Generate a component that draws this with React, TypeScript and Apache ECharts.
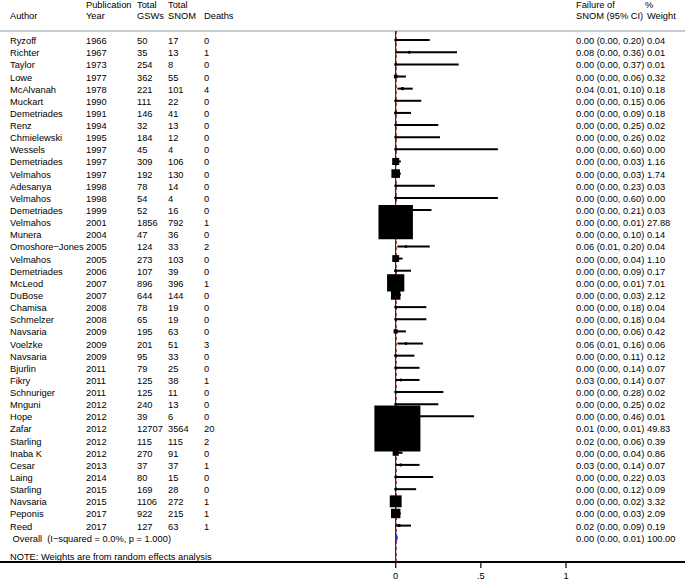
import React, { useEffect, useRef } from "react";
import * as echarts from "echarts";

const authors = ["Ryzoff","Richter","Taylor","Lowe","McAlvanah","Muckart","Demetriades","Renz","Chmielewski","Wessels","Demetriades","Velmahos","Adesanya","Velmahos","Demetriades","Velmahos","Munera","Omoshore\u2212Jones","Velmahos","Demetriades","McLeod","DuBose","Chamisa","Schmelzer","Navsaria","Voelzke","Navsaria","Bjurlin","Fikry","Schnuriger","Mnguni","Hope","Zafar","Starling","Inaba K","Cesar","Laing","Starling","Navsaria","Peponis","Reed"];
const years = [1966,1967,1973,1977,1978,1990,1991,1994,1995,1997,1997,1997,1998,1998,1999,2001,2004,2005,2005,2006,2007,2007,2008,2008,2009,2009,2009,2011,2011,2011,2012,2012,2012,2012,2012,2013,2014,2015,2015,2017,2017];
const gsws = [50,35,254,362,221,111,146,32,184,45,309,192,78,54,52,1856,47,124,273,107,896,644,78,65,195,201,95,79,125,125,240,39,12707,115,270,37,80,169,1106,922,127];
const snom = [17,13,8,55,101,22,41,13,12,4,106,130,14,4,16,792,36,33,103,39,396,144,19,19,63,51,33,25,38,11,13,6,3564,115,91,37,15,28,272,215,63];
const deaths = [0,1,0,0,4,0,0,0,0,0,0,0,0,0,0,1,0,2,0,0,1,0,0,0,0,3,0,0,1,0,0,0,20,2,0,1,0,0,1,1,1];
const es = [0.00,0.08,0.00,0.00,0.04,0.00,0.00,0.00,0.00,0.00,0.00,0.00,0.00,0.00,0.00,0.00,0.00,0.06,0.00,0.00,0.00,0.00,0.00,0.00,0.00,0.06,0.00,0.00,0.03,0.00,0.00,0.00,0.01,0.02,0.00,0.03,0.00,0.00,0.00,0.00,0.02];
const lo = [0.00,0.00,0.00,0.00,0.01,0.00,0.00,0.00,0.00,0.00,0.00,0.00,0.00,0.00,0.00,0.00,0.00,0.01,0.00,0.00,0.00,0.00,0.00,0.00,0.00,0.01,0.00,0.00,0.00,0.00,0.00,0.00,0.00,0.00,0.00,0.00,0.00,0.00,0.00,0.00,0.00];
const hi = [0.20,0.36,0.37,0.06,0.10,0.15,0.09,0.25,0.26,0.60,0.03,0.03,0.23,0.60,0.21,0.01,0.10,0.20,0.04,0.09,0.01,0.03,0.18,0.18,0.06,0.16,0.11,0.14,0.14,0.28,0.25,0.46,0.01,0.06,0.04,0.14,0.22,0.12,0.02,0.03,0.09];
const weights = [0.04,0.01,0.01,0.32,0.18,0.06,0.18,0.02,0.02,0.00,1.16,1.74,0.03,0.00,0.03,27.88,0.14,0.04,1.10,0.17,7.01,2.12,0.04,0.04,0.42,0.06,0.12,0.07,0.07,0.02,0.02,0.01,49.83,0.39,0.86,0.07,0.03,0.09,3.32,2.09,0.19];

const overallES = 0.003;
const overallLo = 0.0;
const overallHi = 0.01;
const overallWeight = 100.0;
const overallLabel = " Overall  (I\u2212squared = 0.0%, p = 1.000)";
const noteLabel = "NOTE: Weights are from random effects analysis";
const tickValues = [0, 0.5, 1];
const tickLabels = ["0", ".5", "1"];

const FONT = "Liberation Sans, Arial, Helvetica, sans-serif";
const FS = 9.3;
const COLS = { author: 10, year: 86, gsw: 137, snom: 168, deaths: 204, effect: 576, weight: 647 };
const TEXT_DY = 1;
const BOX = 6.52;
const X_MIN = -2.3235;
const X_MAX = 1.6988;
const Y_MIN = 0.25;
const Y_MAX = 44;

export default function App() {
  const ref = useRef<HTMLDivElement>(null);
  useEffect(() => {
    if (!ref.current) return;
    const chart = echarts.init(ref.current, null, { renderer: "svg" });
    const n = authors.length;
    const studyData = authors.map((_, i) => [lo[i], i + 1, hi[i], es[i], weights[i]]);
    const textData = authors.map((_, i) => [0, i + 1, i]);
    const overallRow = n + 1;
    const noteRow = n + 2.5;

    const txt = (x: number, y: number, s: string) => ({
      type: "text",
      style: { text: s, x, y: y + TEXT_DY, fill: "#000", font: `${FS}px ${FONT}`, textAlign: "left", textVerticalAlign: "middle" },
    });

    const header = [
      [COLS.author, 11, "Author"],
      [COLS.year, 0, "Publication"],
      [COLS.year, 11, "Year"],
      [COLS.gsw, 0, "Total"],
      [COLS.gsw, 11, "GSWs"],
      [COLS.snom, 0, "Total"],
      [COLS.snom, 11, "SNOM"],
      [COLS.deaths, 11, "Deaths"],
      [COLS.effect, 0, "Failure of"],
      [COLS.effect, 11, "SNOM (95% CI)"],
      [COLS.weight - 2, 0, "%"],
      [COLS.weight, 11, "Weight"],
    ].map(([x, y, s]) => ({
      type: "text",
      left: x as number,
      top: y as number,
      style: { text: s as string, fill: "#000", font: `${FS}px ${FONT}` },
    }));

    const option: any = {
      animation: false,
      grid: { left: 0, right: 0, top: 31, bottom: 21, containLabel: false },
      xAxis: {
        type: "value",
        min: X_MIN,
        max: X_MAX,
        axisLine: { show: false },
        axisTick: { show: false },
        axisLabel: {
          show: true,
          customValues: tickValues,
          margin: 9,
          color: "#000",
          fontSize: FS,
          fontFamily: FONT,
          formatter: (v: number) => tickLabels[tickValues.indexOf(v)] ?? "",
        },
        splitLine: { show: false },
      },
      yAxis: {
        type: "value",
        min: Y_MIN,
        max: Y_MAX,
        inverse: true,
        show: false,
        splitLine: { show: false },
      },
      graphic: header,
      series: [
        {
          type: "custom",
          z: 1,
          clip: false,
          silent: true,
          data: [[X_MIN, Y_MIN, X_MAX, Y_MAX]],
          encode: { x: [0, 2], y: [1, 3] },
          renderItem: (_p: any, api: any) => {
            const tl = api.coord([api.value(0), api.value(1)]);
            const br = api.coord([api.value(2), api.value(3)]);
            const topY = Math.round(tl[1]);
            const axisY = Math.round(br[1]);
            const children: any[] = [
              { type: "rect", shape: { x: tl[0], y: topY - 1, width: br[0] - tl[0], height: 2 }, style: { fill: "#c4cccc" } },
              { type: "rect", shape: { x: tl[0], y: axisY - 1, width: br[0] - tl[0], height: 2 }, style: { fill: "#000" } },
            ];
            tickValues.forEach((t) => {
              const p = api.coord([t, api.value(3)]);
              children.push({ type: "rect", shape: { x: p[0] - 0.6, y: axisY, width: 1.2, height: 6 }, style: { fill: "#000" } });
            });
            return { type: "group", children };
          },
        },
        {
          type: "line",
          data: [[0, Y_MIN], [0, Y_MAX]],
          symbol: "none",
          clip: false,
          lineStyle: { color: "#000", width: 1 },
          z: 1,
        },
        {
          type: "line",
          data: [[overallES, Y_MIN], [overallES, Y_MAX]],
          symbol: "none",
          clip: false,
          lineStyle: { color: "#c00000", width: 1, type: [3, 3] },
          z: 2,
        },
        {
          type: "custom",
          z: 3,
          clip: false,
          data: studyData,
          encode: { x: [0, 2, 3], y: 1 },
          renderItem: (_p: any, api: any) => {
            const row = api.value(1);
            const a = api.coord([api.value(0), row]);
            const b = api.coord([api.value(2), row]);
            const e = api.coord([api.value(3), row]);
            const side = BOX * Math.sqrt(api.value(4));
            return {
              type: "group",
              children: [
                { type: "line", shape: { x1: a[0], y1: a[1], x2: b[0], y2: b[1] }, style: { stroke: "#000", lineWidth: 2 } },
                { type: "rect", shape: { x: e[0] - side / 2, y: e[1] - side / 2, width: side, height: side }, style: { fill: "#000" } },
                { type: "circle", shape: { cx: e[0], cy: e[1], r: 1.5 }, style: { fill: "#000" } },
              ],
            };
          },
        },
        {
          type: "custom",
          z: 4,
          clip: false,
          data: [[overallLo, overallRow, overallHi, overallES]],
          encode: { x: [0, 2, 3], y: 1 },
          renderItem: (_p: any, api: any) => {
            const row = api.value(1);
            const a = api.coord([api.value(0), row]);
            const b = api.coord([api.value(2), row]);
            const e = api.coord([api.value(3), row]);
            const h = 5;
            return {
              type: "polygon",
              shape: { points: [[a[0] - 0.6, a[1]], [e[0], e[1] - h], [b[0] + 0.6, b[1]], [e[0], e[1] + h]] },
              style: { fill: "#2a2ad0" },
            };
          },
        },
        {
          type: "custom",
          z: 5,
          clip: false,
          data: textData,
          encode: { x: 0, y: 1 },
          renderItem: (_p: any, api: any) => {
            const i = api.value(2);
            const y = api.coord([0, api.value(1)])[1];
            const eff = `${es[i].toFixed(2)} (${lo[i].toFixed(2)}, ${hi[i].toFixed(2)})`;
            return {
              type: "group",
              children: [
                txt(COLS.author, y, authors[i]),
                txt(COLS.year, y, String(years[i])),
                txt(COLS.gsw, y, String(gsws[i])),
                txt(COLS.snom, y, String(snom[i])),
                txt(COLS.deaths, y, String(deaths[i])),
                txt(COLS.effect, y, eff),
                txt(COLS.weight, y, weights[i].toFixed(2)),
              ],
            };
          },
        },
        {
          type: "custom",
          z: 5,
          clip: false,
          data: [[0, overallRow], [0, noteRow]],
          encode: { x: 0, y: 1 },
          renderItem: (p: any, api: any) => {
            const y = api.coord([0, api.value(1)])[1];
            if (p.dataIndex === 0) {
              const eff = `${overallES.toFixed(2)} (${overallLo.toFixed(2)}, ${overallHi.toFixed(2)})`;
              return {
                type: "group",
                children: [
                  txt(COLS.author, y, overallLabel),
                  txt(COLS.effect, y, eff),
                  txt(COLS.weight, y, overallWeight.toFixed(2)),
                ],
              };
            }
            return txt(COLS.author, y, noteLabel);
          },
        },
      ],
    };
    chart.setOption(option);
    return () => chart.dispose();
  }, []);
  return <div ref={ref} style={{ position: "absolute", left: 0, top: 0, width: 685, height: 583, background: "#fff" }} />;
}
